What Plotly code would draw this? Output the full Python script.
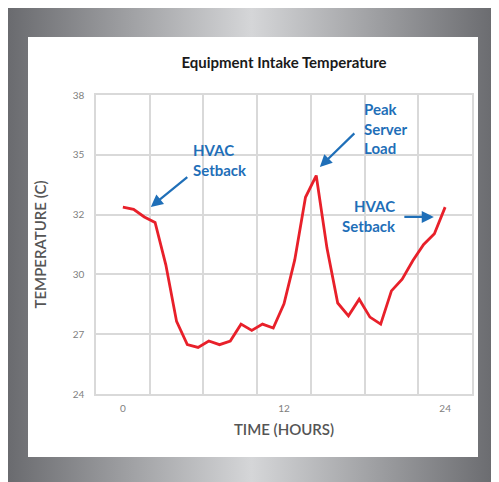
import base64
import plotly.graph_objects as go

# ---- data ----
hours = [round(i * 0.8, 1) for i in range(31)]
temps = [32.75, 32.65, 32.29, 32.03, 30.05, 27.40, 26.31, 26.18, 26.48, 26.31,
         26.48, 27.27, 26.98, 27.27, 27.09, 28.22, 30.28, 33.21, 34.23, 30.83,
         28.26, 27.66, 28.44, 27.60, 27.27, 28.83, 29.38, 30.25, 31.00, 31.50, 32.75]
x_tickvals = [0, 12, 24]
x_gridvals = [-2, 2, 6, 10, 14, 18, 22, 26]
y_tickvals = [24, 26.8, 29.6, 32.4, 35.2, 38]
y_ticktext = ["24", "27", "30", "32", "35", "38"]

W, H = 499, 482
OFF = 8  # page body margin compensation
L, T = 96 - OFF, 95 - OFF
R, B = W - (472 - OFF), H - (394 - OFF)
pw, ph = W - L - R, H - T - B

FONT = "Lato"
BLUE = "#1f6fb8"

svg = f'''<svg xmlns="http://www.w3.org/2000/svg" width="{W}" height="{H}" viewBox="0 0 {W} {H}">
<defs><linearGradient id="g" gradientUnits="userSpaceOnUse" x1="{4 - OFF}" x2="{499 - OFF}" y1="0" y2="0">
<stop offset="0" stop-color="#68696d"/><stop offset="0.5" stop-color="#d5d6d8"/><stop offset="1" stop-color="#68696d"/>
</linearGradient></defs>
<rect x="0" y="0" width="{W}" height="{H}" fill="url(#g)"/>
<rect x="{28 - OFF}" y="{37 - OFF}" width="450" height="420" fill="#ffffff"/>
</svg>'''
bg_uri = "data:image/svg+xml;base64," + base64.b64encode(svg.encode()).decode()

fig = go.Figure()
fig.add_trace(go.Scatter(x=hours, y=temps, mode="lines",
                         line=dict(color="#e8202a", width=2.8),
                         hoverinfo="x+y", showlegend=False))

fig.add_layout_image(dict(source=bg_uri, xref="paper", yref="paper",
                          x=-L / pw, y=1 + T / ph, sizex=W / pw, sizey=H / ph,
                          xanchor="left", yanchor="top", sizing="stretch", layer="below"))

grid = "#d9d9d9"
fig.update_layout(
    width=W, height=H,
    margin=dict(l=L, r=R, t=T, b=B),
    paper_bgcolor="white", plot_bgcolor="rgba(0,0,0,0)",
    font=dict(family=FONT, color="#808080"),
    title=dict(text="<b>Equipment Intake Temperature</b>", x=(L + pw / 2) / W, xanchor="center",
               y=1 - (63 - OFF) / H, yanchor="middle", yref="container",
               font=dict(family=FONT, size=15, color="#1a1a1a")),
    xaxis=dict(range=[-2, 26], tickmode="array", tickvals=x_tickvals,
               showgrid=False, zeroline=False, ticks="", ticklabelstandoff=4,
               tickfont=dict(size=10, color="#808080"),
               showline=True, linecolor=grid, linewidth=1.5, mirror=True,
               minor=dict(tickmode="array", tickvals=x_gridvals, showgrid=True,
                          gridcolor=grid, gridwidth=1.5, ticks=""),
               title=dict(text="TIME (HOURS)", standoff=12,
                          font=dict(family=FONT, size=15, color="#555555", weight=600))),
    yaxis=dict(range=[24, 38], tickmode="array", tickvals=y_tickvals, ticktext=y_ticktext,
               showgrid=True, gridcolor=grid, gridwidth=1.5, zeroline=False, ticks="",
               ticklabelstandoff=8, tickfont=dict(size=10, color="#808080"),
               showline=True, linecolor=grid, linewidth=1.5, mirror=True,
               title=dict(text="TEMPERATURE (C)", standoff=22,
                          font=dict(family=FONT, size=15, color="#555555", weight=600))),
)

ann_font = dict(family=FONT, size=15, color=BLUE)
# text labels
fig.add_annotation(x=5.1, y=34.98, text="<b>HVAC<br>Setback</b>", showarrow=False,
                   xanchor="left", yanchor="middle", align="left", font=ann_font)
fig.add_annotation(x=17.8, y=36.43, text="<b>Peak<br>Server<br>Load</b>", showarrow=False,
                   xanchor="left", yanchor="middle", align="left", font=ann_font)
fig.add_annotation(x=20.5, y=32.32, text="<b>HVAC<br>Setback</b>", showarrow=False,
                   xanchor="right", yanchor="middle", align="right", font=ann_font)
# arrows
for (hx, hy, tx, ty) in [(2.08, 32.76, 4.91, 34.21), (14.67, 34.63, 17.35, 36.27),
                         (23.16, 32.29, 20.85, 32.29)]:
    fig.add_annotation(x=hx, y=hy, ax=tx, ay=ty, axref="x", ayref="y", text="",
                       showarrow=True, arrowhead=2, arrowsize=1.1, arrowwidth=2.2,
                       arrowcolor=BLUE)

fig.write_html("out.html")
